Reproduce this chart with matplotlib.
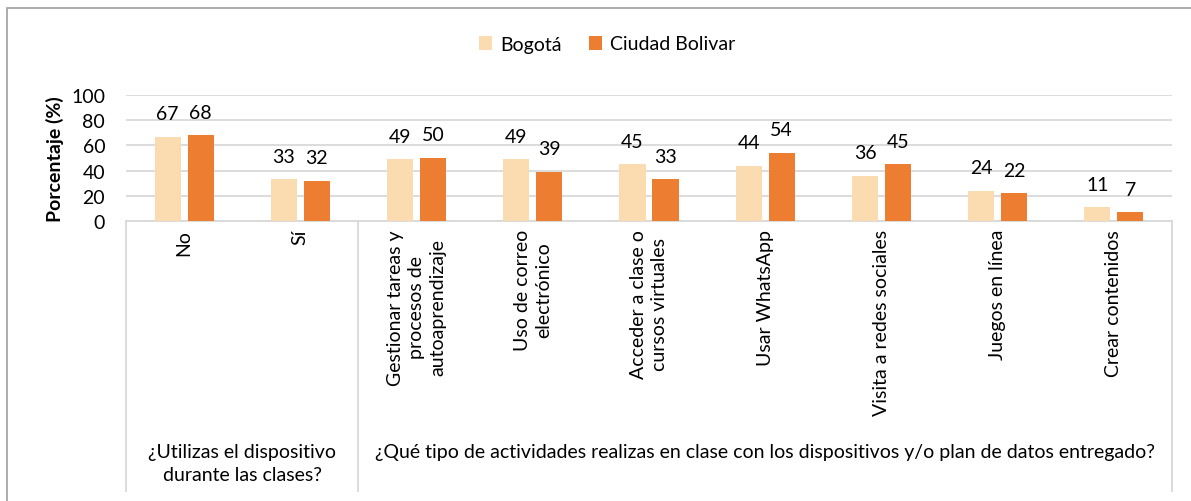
import matplotlib
matplotlib.use("Agg")
import matplotlib.pyplot as plt
from matplotlib.patches import Rectangle, Patch

plt.rcParams['font.family'] = ['Lato', 'DejaVu Sans']

categories = ["No", "Sí",
              "Gestionar tareas y\nprocesos de\nautoaprendizaje",
              "Uso de correo\nelectrónico",
              "Acceder a clase o\ncursos virtuales",
              "Usar WhatsApp",
              "Visita a redes sociales",
              "Juegos en línea",
              "Crear contenidos"]
bogota = [67, 33, 49, 49, 45, 44, 36, 24, 11]
ciudad_bolivar = [68, 32, 50, 39, 33, 54, 45, 22, 7]
series_names = ["Bogotá", "Ciudad Bolivar"]
groups = ["¿Utilizas el dispositivo\ndurante las clases?",
          "¿Qué tipo de actividades realizas en clase con los dispositivos y/o plan de datos entregado?"]
group_sizes = [2, 7]
yticks = [0, 20, 40, 60, 80, 100]

c_bog = "#FBDBB0"
c_cb = "#ED7D31"
grid_c = "#D9D9D9"
FS = 14

W, H = 1191, 502
fig = plt.figure(figsize=(W / 100, H / 100), dpi=100)

# outer frame
fig.patches.append(Rectangle((7 / W, -0.05), 1.2, 1 - 8.5 / H + 0.05,
                             transform=fig.transFigure, fill=False,
                             edgecolor="#A6A6A6", linewidth=1.3))

left, right = 126 / W, 1172 / W
bottom, top = 1 - 222 / H, 1 - 96 / H
ax = fig.add_axes([left, bottom, right - left, top - bottom])

n = len(categories)
x = list(range(n))
bw = 0.225
off = 0.142
b1 = ax.bar([i - off for i in x], bogota, width=bw, color=c_bog, zorder=3)
b2 = ax.bar([i + off for i in x], ciudad_bolivar, width=bw, color=c_cb, zorder=3)

for bars, vals in ((b1, bogota), (b2, ciudad_bolivar)):
    for r, v in zip(bars, vals):
        ax.annotate(f"{v}", (r.get_x() + r.get_width() / 2, v),
                    xytext=(0, 10.5), textcoords="offset points",
                    ha="center", va="bottom", fontsize=FS, color="#000000")

ax.set_xlim(-0.5, n - 0.5)
ax.set_ylim(0, 100)
ax.set_yticks(yticks)
ax.set_yticklabels([str(t) for t in yticks], fontsize=FS)
ax.tick_params(axis="y", length=0, pad=15)
ax.set_xticks([])
ax.yaxis.grid(True, color=grid_c, linewidth=1.3, zorder=0)
for s in ("top", "right", "left"):
    ax.spines[s].set_visible(False)
ax.spines["bottom"].set_color(grid_c)
ax.spines["bottom"].set_linewidth(1.3)
ax.set_ylabel("Porcentaje (%)", fontsize=FS, fontweight="bold", labelpad=5)

tr = ax.get_xaxis_transform()
px_per_axes = (222 - 96)
y_line_end = -(492 - 222) / px_per_axes
# separators
bounds = [-0.5]
acc = -0.5
for g in group_sizes:
    acc += g
    bounds.append(acc)
for b in bounds:
    ax.plot([b, b], [0, y_line_end], transform=tr, color=grid_c,
            linewidth=1.3, clip_on=False)

# category labels
for i, lab in enumerate(categories):
    ax.text(i, -(230 - 222) / px_per_axes, lab, transform=tr, rotation=90,
            ha="center", va="top", multialignment="center", fontsize=FS,
            linespacing=1.3)

# group labels
for gi, g in enumerate(groups):
    c = (bounds[gi] + bounds[gi + 1]) / 2
    ax.text(c, -(444 - 222) / px_per_axes, g, transform=tr,
            ha="center", va="top", multialignment="center", fontsize=FS,
            linespacing=1.4)

handles = [Patch(facecolor=c_bog), Patch(facecolor=c_cb)]
fig.legend(handles, series_names, loc="center", bbox_to_anchor=(607 / W, 1 - 45 / H),
           ncol=2, frameon=False, fontsize=FS, handlelength=0.7, handleheight=0.7,
           handletextpad=0.4, columnspacing=1.4)

fig.savefig("out.png", dpi=100)
